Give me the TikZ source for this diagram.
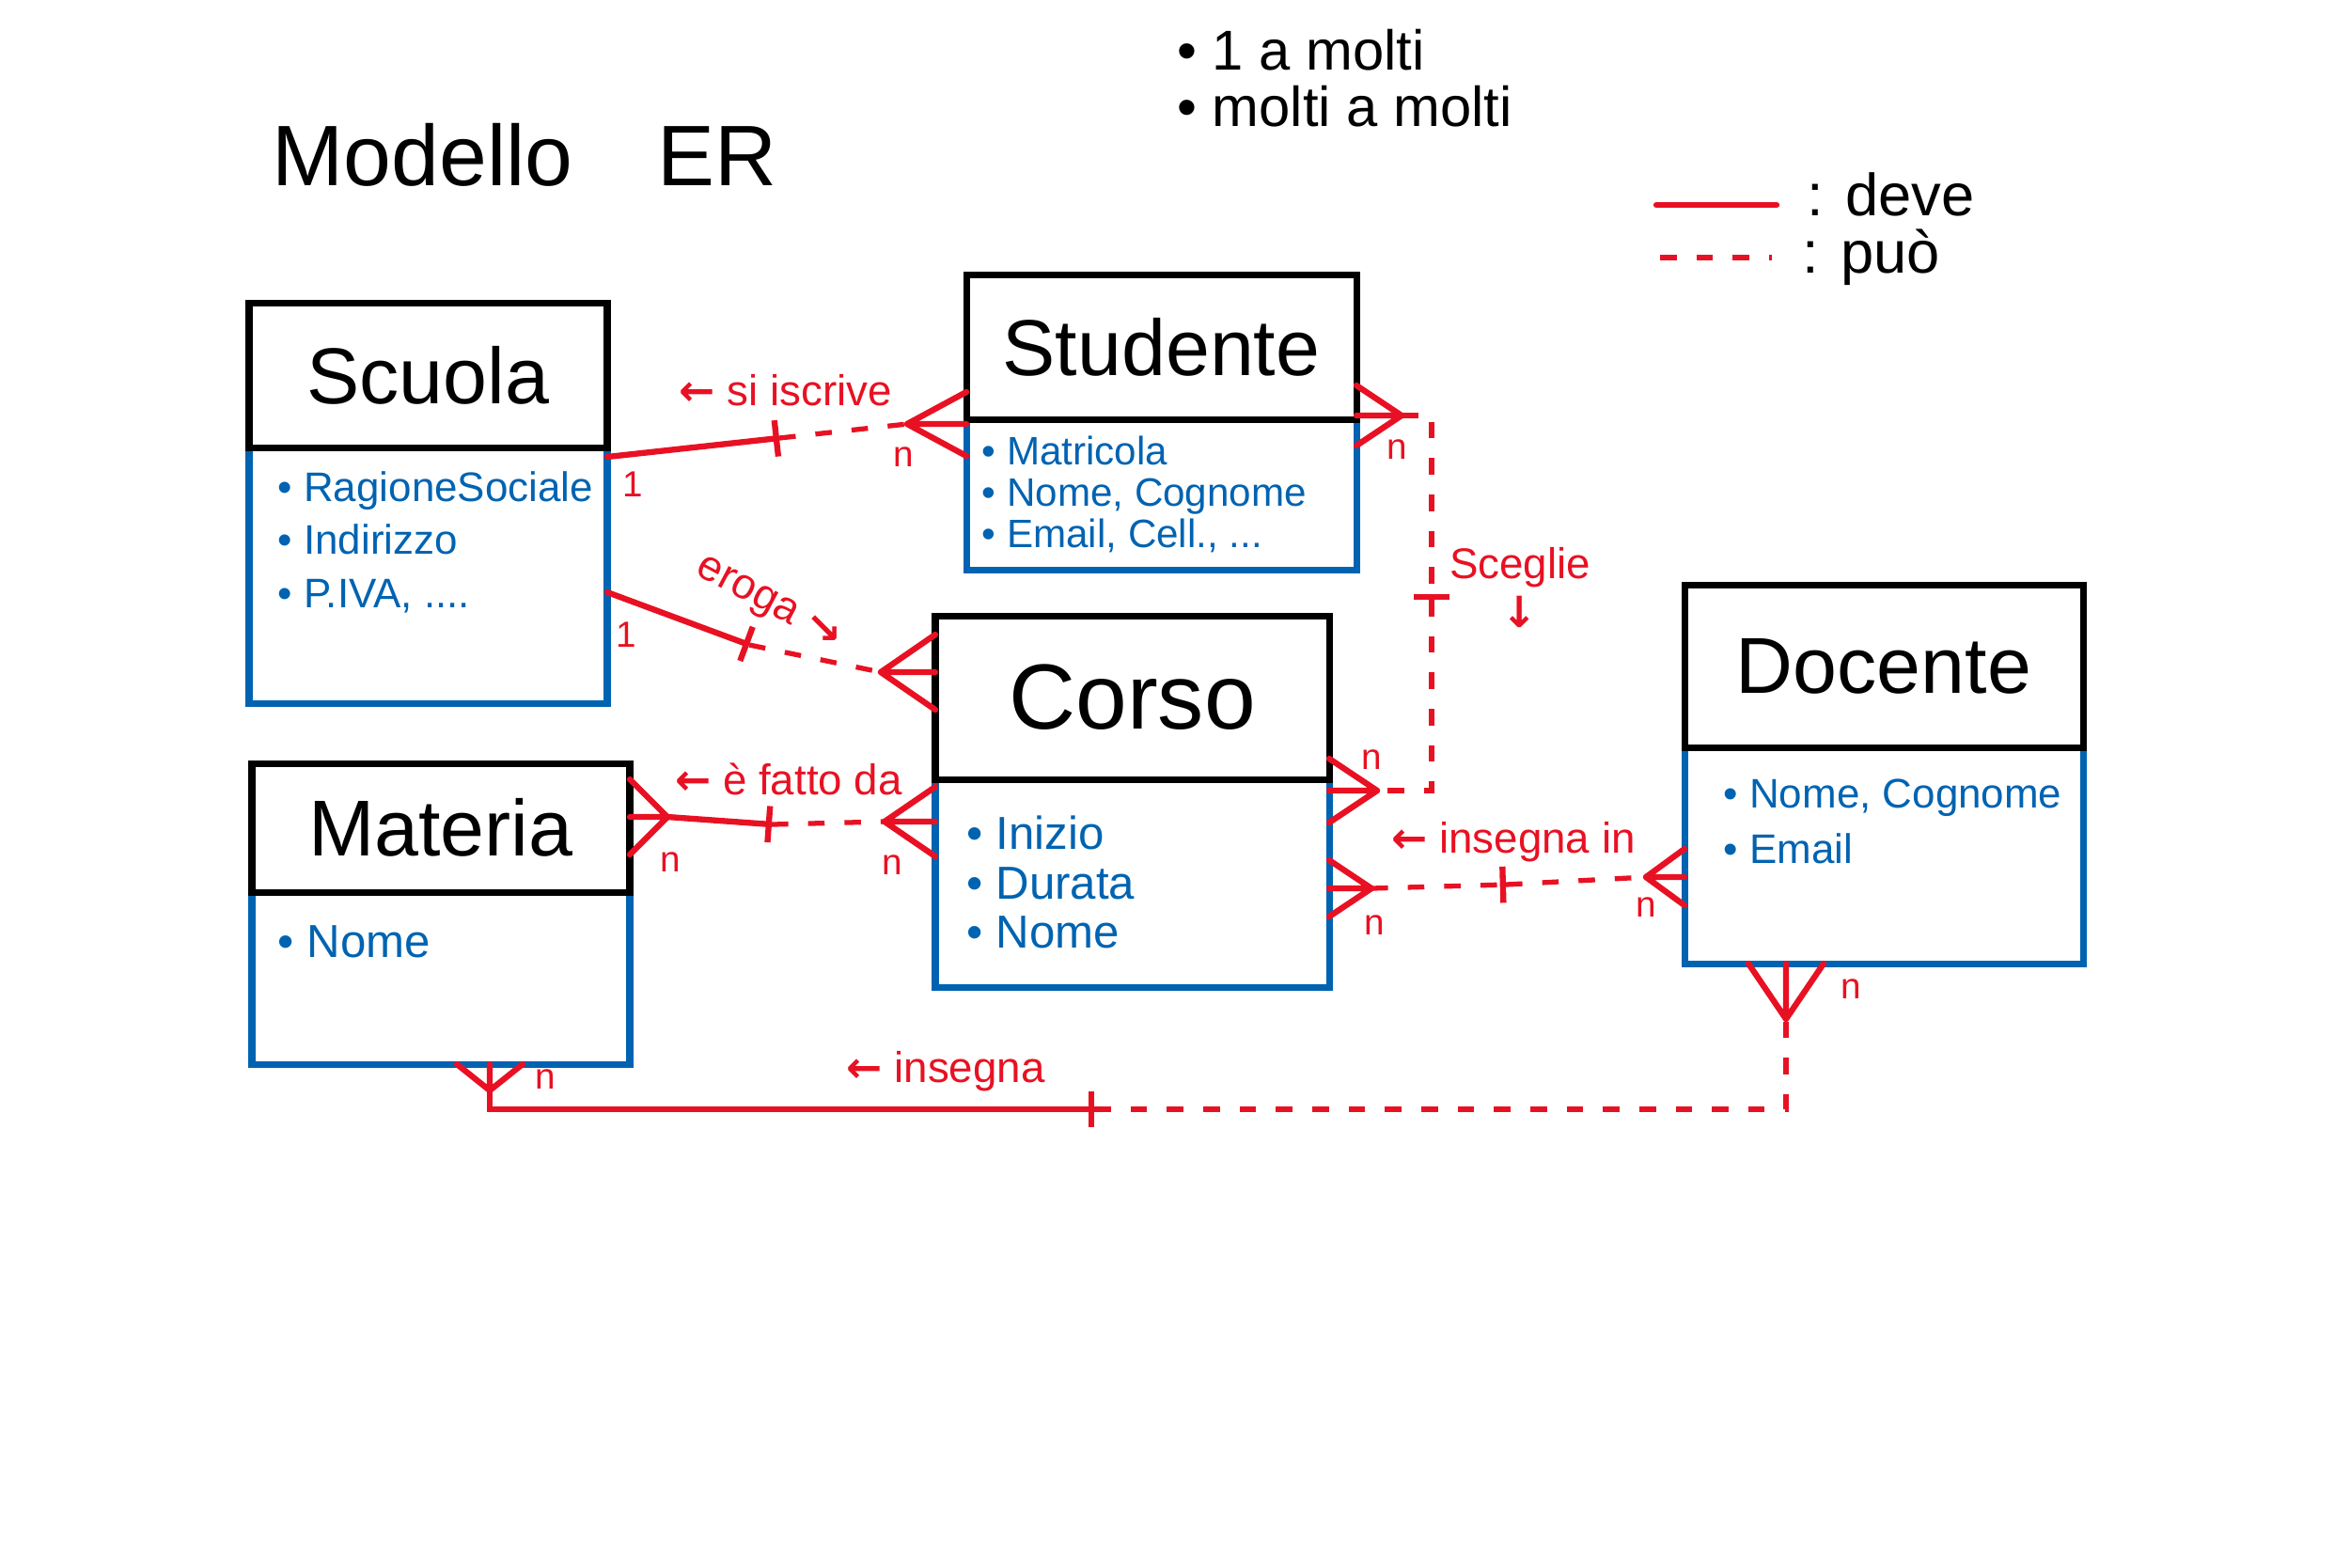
\documentclass[tikz,border=0pt]{standalone}
\usepackage{fontspec}
\setmainfont{Liberation Sans}
\newfontfamily\frecce{DejaVu Sans}
\usetikzlibrary{positioning,arrows.meta,calc}
\definecolor{erred}{RGB}{232,17,35}
\definecolor{erblue}{RGB}{0,99,177}

% zampa di gallina: vertice, punto sul bordo, apertura
\newcommand{\zampa}[3]{%
  \draw[deve] (#1) -- ($(#2)+(#3)$) (#1) -- (#2) (#1) -- ($(#2)-(#3)$);}

\begin{document}
\begin{tikzpicture}[every node/.style={font=\fontsize{13}{16}\selectfont},
    titolo/.style={draw=black, line width=2pt, outer sep=0pt, inner sep=0pt, font=\fontsize{24}{28}\selectfont},
    corpo/.style={draw=erblue, line width=2pt, outer sep=0pt},
    attr/.style={text=erblue, align=left, inner sep=0pt, font=\fontsize{12.5}{16}\selectfont},
    deve/.style={draw=erred, line width=1.8pt, line cap=round},
    puo/.style={draw=erred, line width=1.5pt, dash pattern=on 5pt off 6pt},
    tacca/.style={-{Bar[width=11pt,line width=1.8pt]}},
    rel/.style={text=erred, font=\fontsize{13}{15}\selectfont},
    card/.style={text=erred, font=\fontsize{11}{11}\selectfont},
    legenda/.style={font=\fontsize{18}{22}\selectfont}]
  \useasboundingbox (0,0) rectangle (25,-16.67);

  % titolo e legenda
  \node[font=\fontsize{26}{30}\selectfont] (titolo) at (5.58,-1.65) {Modello\hspace{0.9cm}ER};
  \node[legenda, align=left, anchor=west, font=\fontsize{17}{17}\selectfont] (tipi) at (12.40,-0.83) {\textbullet\ 1 a molti\\\textbullet\ molti a molti};
  \node[legenda, anchor=west] (leg deve) at (19.10,-2.07) {: deve};
  \node[legenda, anchor=west] (leg puo) at (19.05,-2.74) {: può};
  \coordinate (leg a) at (17.62,-2.18);
  \coordinate (leg b) at (17.66,-2.74);
  \draw[deve] (leg a) -- ([xshift=-2mm]leg deve.west |- leg a);
  \draw[puo] (leg b) -- ([xshift=-2mm]leg puo.west |- leg b);

  % entita
  \node[corpo, minimum width=3.81cm, minimum height=2.72cm] (scuola corpo) at (4.555,-6.12) {};
  \node[titolo, minimum width=3.81cm, minimum height=1.54cm, above=0pt of scuola corpo] (scuola) {Scuola};
  \node[attr, below right=0.25cm and 0.3cm of scuola corpo.north west] (scuola attr) {\textbullet\ RagioneSociale\\\textbullet\ Indirizzo\\\textbullet\ P.IVA, ....};

  \node[corpo, minimum width=4.15cm, minimum height=1.60cm] (studente corpo) at (12.355,-5.26) {};
  \node[titolo, minimum width=4.15cm, minimum height=1.54cm, above=0pt of studente corpo] (studente) {Studente};
  \node[attr, font=\fontsize{12}{12.5}\selectfont, below right=0.17cm and 0.16cm of studente corpo.north west] (studente attr) {\textbullet\ Matricola\\\textbullet\ Nome, Cognome\\\textbullet\ Email, Cell., ...};

  \node[corpo, minimum width=4.19cm, minimum height=2.21cm] (corso corpo) at (12.045,-9.395) {};
  \node[titolo, font=\fontsize{28}{32}\selectfont, minimum width=4.19cm, minimum height=1.74cm, above=0pt of corso corpo] (corso) {Corso};
  \node[attr, font=\fontsize{14}{15}\selectfont, below right=0.38cm and 0.33cm of corso corpo.north west] (corso attr) {\textbullet\ Inizio\\\textbullet\ Durata\\\textbullet\ Nome};

  \node[corpo, minimum width=4.24cm, minimum height=2.30cm] (docente corpo) at (20.04,-9.10) {};
  \node[titolo, minimum width=4.24cm, minimum height=1.73cm, above=0pt of docente corpo] (docente) {Docente};
  \node[attr, font=\fontsize{12.5}{16.8}\selectfont, below right=0.33cm and 0.41cm of docente corpo.north west] (docente attr) {\textbullet\ Nome, Cognome\\\textbullet\ Email};

  \node[corpo, minimum width=4.02cm, minimum height=1.83cm] (materia corpo) at (4.69,-10.405) {};
  \node[titolo, minimum width=4.02cm, minimum height=1.37cm, above=0pt of materia corpo] (materia) {Materia};
  \node[attr, font=\fontsize{14}{16}\selectfont, below right=0.35cm and 0.27cm of materia corpo.north west] (materia attr) {\textbullet\ Nome};

  % si iscrive
  \coordinate (iscr tacca) at (8.29,-4.66);
  \coordinate (iscr piede) at (9.65,-4.51);
  \coordinate (iscr bordo) at (studente corpo.west |- iscr piede);
  \draw[deve, tacca] ([yshift=-1mm]scuola corpo.north east) -- (iscr tacca);
  \draw[puo] (iscr tacca) -- (iscr piede);
  \zampa{iscr piede}{iscr bordo}{0,0.34}
  \node[rel] (iscr testo) at (8.36,-4.15) {{\frecce\bfseries ←} si iscrive};

  % eroga
  \coordinate (erog tacca) at (7.97,-6.86);
  \coordinate (erog piede) at (9.37,-7.15);
  \coordinate (erog bordo) at (corso.west |- erog piede);
  \draw[deve, tacca] ([yshift=-1.8mm]scuola corpo.east) -- (erog tacca);
  \draw[puo] (erog tacca) -- (erog piede);
  \zampa{erog piede}{erog bordo}{0,0.4}
  \node[rel, rotate=-28] (erog testo) at (7.94,-6.31) {eroga};
  \node[rel] (erog freccia) at (8.77,-6.70) {\frecce\bfseries ↘};

  % sceglie
  \coordinate (sceg piede a) at (14.91,-4.42);
  \coordinate (sceg bordo a) at (studente corpo.east |- sceg piede a);
  \coordinate (sceg tacca) at (15.23,-6.38);
  \coordinate (sceg piede b) at (14.65,-8.41);
  \coordinate (sceg bordo b) at (corso corpo.east |- sceg piede b);
  \draw[puo, tacca] (sceg piede a) -| (sceg tacca);
  \draw[puo] (sceg tacca) |- (sceg piede b);
  \zampa{sceg piede a}{sceg bordo a}{0,0.32}
  \zampa{sceg piede b}{sceg bordo b}{0,0.34}
  \node[rel, align=center] (sceg testo) at (16.17,-6.25) {Sceglie\\{\frecce\bfseries ↓}};

  % e' fatto da
  \coordinate (fatt piede a) at (7.10,-8.69);
  \coordinate (fatt bordo a) at (materia.east |- fatt piede a);
  \coordinate (fatt tacca) at (8.21,-8.77);
  \coordinate (fatt piede b) at (9.41,-8.74);
  \coordinate (fatt bordo b) at (corso corpo.west |- fatt piede b);
  \draw[deve, tacca] (fatt piede a) -- (fatt tacca);
  \draw[puo] (fatt tacca) -- (fatt piede b);
  \zampa{fatt piede a}{fatt bordo a}{0,0.4}
  \zampa{fatt piede b}{fatt bordo b}{0,0.37}
  \node[rel] (fatt testo) at (8.39,-8.29) {{\frecce\bfseries ←} è fatto da};

  % insegna in
  \coordinate (insi piede a) at (14.59,-9.45);
  \coordinate (insi bordo a) at (corso corpo.east |- insi piede a);
  \coordinate (insi tacca) at (16.02,-9.41);
  \coordinate (insi piede b) at (17.51,-9.33);
  \coordinate (insi bordo b) at (docente corpo.west |- insi piede b);
  \draw[puo, tacca] (insi piede a) -- (insi tacca);
  \draw[puo] (insi tacca) -- (insi piede b);
  \zampa{insi piede a}{insi bordo a}{0,0.3}
  \zampa{insi piede b}{insi bordo b}{0,0.3}
  \node[rel] (insi testo) at (16.10,-8.96) {{\frecce\bfseries ←} insegna in};

  % insegna
  \coordinate (insg piede a) at (5.21,-11.60);
  \coordinate (insg bordo a) at (materia corpo.south -| insg piede a);
  \coordinate (insg tacca) at (11.64,-11.80);
  \coordinate (insg piede b) at (19.00,-10.84);
  \coordinate (insg bordo b) at (docente corpo.south -| insg piede b);
  \draw[deve, tacca] (insg piede a) |- (insg tacca);
  \draw[puo] (insg tacca) -| (insg piede b);
  \zampa{insg piede a}{insg bordo a}{0.35,0}
  \zampa{insg piede b}{insg bordo b}{0.4,0}
  \node[rel] (insg testo) at (10.06,-11.40) {{\frecce\bfseries ←} insegna};

  % cardinalita
  \foreach \x/\y/\t [count=\i] in {6.73/-5.15/1, 9.61/-4.86/n, 6.66/-6.75/1, 14.86/-4.78/n,
      14.59/-8.08/n, 7.13/-9.17/n, 9.49/-9.20/n, 14.62/-9.84/n, 17.51/-9.65/n,
      5.80/-11.48/n, 19.69/-10.52/n}
    \node[card] (card \i) at (\x,\y) {\t};
\end{tikzpicture}
\end{document}
